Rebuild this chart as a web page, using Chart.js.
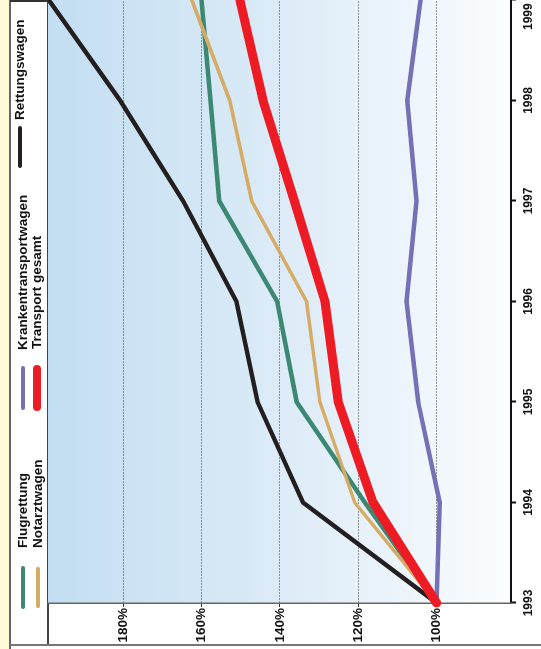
<!DOCTYPE html>
<html>
<head>
<meta charset="utf-8">
<script src="https://cdn.jsdelivr.net/npm/chart.js@4"></script>
<style>
  body { margin: 0; width: 541px; height: 649px; overflow: hidden; background: #fff; }
  /* the chart is built lying on its side and turned a quarter to the left */
  #wrap { position: absolute; left: 0; top: 0; width: 649px; height: 541px;
          transform-origin: 0 0; transform: translate(0, 649px) rotate(-90deg); }
  #wrap canvas { position: absolute; left: 0; top: 0; }
  .rule { position: absolute; }
  .swatch { position: absolute; }
  .lbl { position: absolute; font: bold 13.5px 'Liberation Sans', Arial, sans-serif;
         color: #111; line-height: 16px; white-space: nowrap; }
</style>
</head>
<body>
<div id="wrap">
  <div class="rule" style="left:0;top:0;width:649px;height:10px;background:#fffad8"></div>
  <div class="rule" style="left:0;top:9px;width:649px;height:2px;background:#666"></div>
  <div class="rule" style="left:4px;top:47px;width:645px;height:2px;background:#444"></div>
  <div class="rule" style="left:3px;top:10px;width:1.5px;height:531px;background:#777"></div>
  <div class="rule" style="left:647px;top:10px;width:2px;height:501px;background:#333"></div>
  <canvas id="trendChart" width="649" height="541"></canvas>
  <div id="legend"></div>
</div>
<script>
// Einsatzentwicklung 1993 = 100 %
const years = ['1993', '1994', '1995', '1996', '1997', '1998', '1999'];
const percentTicks = [100, 120, 140, 160, 180];

const transportGesamt = [100, 116.2, 125.1, 128.5, 136.3, 144.3, 150.2];
const notarztwagen = [100, 120.9, 129.8, 133.2, 147.2, 152.8, 162.5];
const flugrettung = [100, 118.3, 135.7, 140.7, 155.5, 157.7, 160];
const rettungswagen = [100, 134.1, 145.7, 151.1, 164.7, 180.8, 199];
const krankentransport = [100, 99.2, 104.7, 107.7, 105.1, 107.5, 104.1];

const series = [
    { label: 'Transport gesamt', data: transportGesamt, color: '#ed1c24', width: 9 },
    { label: 'Notarztwagen', data: notarztwagen, color: '#d6ab66', width: 3.5 },
    { label: 'Flugrettung', data: flugrettung, color: '#3c8873', width: 4.5 },
    { label: 'Rettungswagen', data: rettungswagen, color: '#231f20', width: 4.5 },
    { label: 'Krankentransportwagen', data: krankentransport, color: '#7670b6', width: 4.5 }
];

// legend placement (unrotated coordinates)
const legendSlots = {
    'Flugrettung':           { x: 40,  y: 23, len: 43, text: 101 },
    'Notarztwagen':          { x: 41,  y: 38, len: 41, text: 101 },
    'Krankentransportwagen': { x: 239, y: 23, len: 44, text: 299 },
    'Transport gesamt':      { x: 238, y: 37, len: 46, text: 300 },
    'Rettungswagen':         { x: 481, y: 20, len: 42, text: 529 }
};

function buildLegend() {
    const box = document.getElementById('legend');
    series.forEach(s => {
        const slot = legendSlots[s.label];
        const w = Math.min(s.width, 8);
        const sw = document.createElement('div');
        sw.className = 'swatch';
        sw.style.cssText = `left:${slot.x}px;top:${slot.y - w / 2}px;width:${slot.len}px;height:${w}px;` +
            `background:${s.color};border-radius:${w / 2}px`;
        box.appendChild(sw);
        const t = document.createElement('div');
        t.className = 'lbl';
        t.style.left = slot.text + 'px';
        t.style.top = (slot.y - 8) + 'px';
        t.textContent = s.label;
        box.appendChild(t);
    });
}

const backgroundPlugin = {
    id: 'plotBackground',
    beforeDraw(chart) {
        const { ctx, chartArea: a } = chart;
        const g = ctx.createLinearGradient(0, a.top, 0, a.bottom);
        g.addColorStop(0, '#c3def2');
        g.addColorStop(0.5, '#dcebf7');
        g.addColorStop(1, '#fbfdff');
        ctx.save();
        ctx.fillStyle = g;
        ctx.fillRect(a.left, a.top, a.right - a.left, a.bottom - a.top);
        ctx.restore();
    }
};

function initTrendChart() {
    const ctx = document.getElementById('trendChart');

    const chartData = {
        labels: years,
        datasets: series.map(s => ({
            label: s.label,
            data: s.data,
            borderColor: s.color,
            borderWidth: s.width,
            borderCapStyle: 'round',
            borderJoinStyle: s.width > 6 ? 'round' : 'miter',
            pointRadius: 0,
            tension: 0,
            fill: false
        }))
    };

    const options = {
        responsive: false,
        animation: false,
        devicePixelRatio: 1,
        layout: { padding: { top: 48, left: 0, right: 0, bottom: 0 } },
        scales: {
            x: {
                type: 'category',
                offset: false,
                grid: { drawOnChartArea: false, tickLength: 5, tickColor: '#111', tickWidth: 2 },
                border: { display: true, color: '#111', width: 2 },
                ticks: {
                    color: '#111',
                    font: { size: 12, weight: 'bold' },
                    padding: 5,
                    maxRotation: 0,
                    autoSkip: false,
                    // last year sits at the edge: pull its label inside
                    callback: (v, i) => i === years.length - 1 ? years[i] + ' '.repeat(10) : years[i]
                },
                afterFit(s) { s.height = 30; s.paddingLeft = 0; s.paddingRight = 0; }
            },
            y: {
                min: 81,
                max: 199.2,
                afterBuildTicks(s) { s.ticks = percentTicks.map(v => ({ value: v })); },
                grid: { color: '#333', lineWidth: 1, tickLength: 4, tickColor: '#333', tickWidth: 1 },
                border: { display: true, color: '#666', width: 1.5, dash: [1, 2] },
                ticks: {
                    color: '#111',
                    font: { size: 13.5, weight: 'bold' },
                    padding: 1,
                    callback: v => v + '%'
                },
                afterFit(s) { s.width = 46; s.paddingTop = 0; s.paddingBottom = 0; }
            }
        },
        plugins: {
            legend: { display: false },
            title: { display: false },
            tooltip: { enabled: false }
        }
    };

    Chart.defaults.font.family = "'Liberation Sans', Arial, sans-serif";
    new Chart(ctx, { type: 'line', data: chartData, options: options, plugins: [backgroundPlugin] });
}

buildLegend();
initTrendChart();
</script>
</body>
</html>
